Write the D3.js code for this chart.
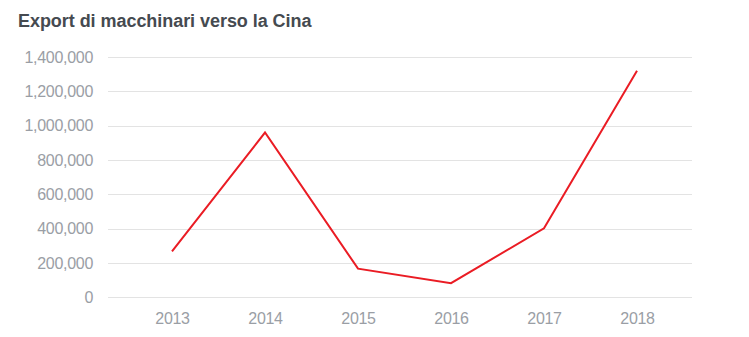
<!DOCTYPE html>
<html>
<head>
<meta charset="utf-8">
<script src="https://cdn.jsdelivr.net/npm/d3@7"></script>
<style>
  body { margin: 0; background: #fff; }
  svg { display: block; font-family: "Liberation Sans", Arial, sans-serif; }
</style>
</head>
<body>
<svg id="chart" width="749" height="337"></svg>
<script>
var years = ["2013", "2014", "2015", "2016", "2017", "2018"];
var exportValues = [268000, 960000, 167000, 82000, 402000, 1320000];
var yTicks = [0, 200000, 400000, 600000, 800000, 1000000, 1200000, 1400000];
var title = "Export di macchinari verso la Cina";

var svg = d3.select("#chart");

var gridLeft = 108, gridRight = 692;

var x = d3.scalePoint()
    .domain(years)
    .range([172, 637]);

var y = d3.scaleLinear()
    .domain([0, 1400000])
    .range([297.3, 57]);

var fmt = d3.format(",");

svg.append("text")
    .attr("x", 18)
    .attr("y", 27)
    .attr("font-size", 18)
    .attr("font-weight", "bold")
    .attr("fill", "#454a50")
    .attr("letter-spacing", -0.05)
    .text(title);

// gridlines
svg.append("g")
    .selectAll("line")
    .data(yTicks)
    .enter().append("line")
    .attr("x1", gridLeft)
    .attr("x2", gridRight)
    .attr("y1", function(d) { return Math.round(y(d)) + 0.5; })
    .attr("y2", function(d) { return Math.round(y(d)) + 0.5; })
    .attr("stroke", "#e3e3e3")
    .attr("stroke-width", 1);

// y axis labels
var yAxis = d3.axisLeft(y).tickValues(yTicks).tickFormat(fmt).tickSize(0).tickPadding(0);
var gy = svg.append("g")
    .attr("transform", "translate(93,0)")
    .call(yAxis);
gy.select(".domain").remove();
gy.selectAll("text")
    .attr("font-size", 16)
    .attr("fill", "#9a9ea5")
    .attr("letter-spacing", -0.3)
    .style("font-family", "'Liberation Sans', Arial, sans-serif");

// x axis labels
var xAxis = d3.axisBottom(x).tickSize(0).tickPadding(0);
var gx = svg.append("g")
    .attr("transform", "translate(0,313)")
    .call(xAxis);
gx.select(".domain").remove();
gx.selectAll("text")
    .attr("font-size", 16)
    .attr("fill", "#9a9ea5")
    .attr("letter-spacing", -0.3)
    .style("font-family", "'Liberation Sans', Arial, sans-serif");

var line = d3.line()
    .x(function(d, i) { return x(years[i]); })
    .y(function(d) { return y(d); });

svg.append("path")
    .datum(exportValues)
    .attr("fill", "none")
    .attr("stroke", "#ea1c24")
    .attr("stroke-width", 2)
    .attr("stroke-linejoin", "miter")
    .attr("d", line);
</script>
</body>
</html>
